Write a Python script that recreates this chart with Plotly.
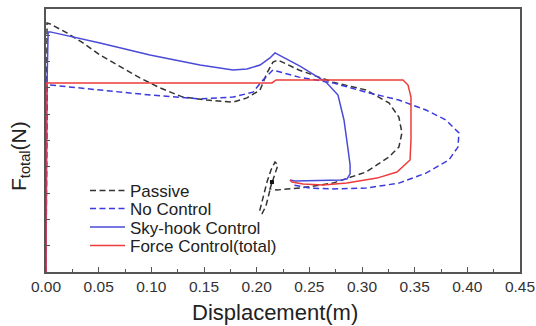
import plotly.graph_objects as go

# Passive (black dashed)
passive_x = [0, 0.001, 0.004, 0.0199, 0.0351, 0.0513, 0.0892, 0.1082, 0.1300, 0.1528, 0.1775, 0.1908,
             0.2032, 0.2098, 0.2155, 0.2202, 0.2401, 0.2724, 0.3037, 0.3256, 0.3350, 0.3379, 0.3350,
             0.3256, 0.3037, 0.2724, 0.2411, 0.2193, 0.2126, 0.2164, 0.2202, 0.2174, 0.2136, 0.2098,
             0.2060, 0.2031, 0.2050, 0.2088, 0.2117, 0.2145]
passive_y = [0, 9.47, 9.43, 9.09, 8.71, 8.25, 7.38, 7.00, 6.65, 6.54, 6.46, 6.62,
             6.92, 7.57, 7.98, 8.06, 7.68, 7.22, 6.92, 6.43, 5.89, 5.29, 4.75,
             4.37, 3.80, 3.38, 3.19, 3.12, 3.16, 3.65, 4.07, 4.18, 3.88, 3.42,
             2.81, 2.36, 2.21, 2.51, 2.97, 3.42]

# No Control (blue dashed)
noctrl_x = [0, 0.001, 0.004, 0.0513, 0.0987, 0.1462, 0.1775, 0.1965, 0.2060, 0.2155, 0.2401, 0.2724,
            0.3037, 0.3350, 0.3607, 0.3797, 0.3920, 0.3911, 0.3825, 0.3607, 0.3350, 0.3037, 0.2724,
            0.2506, 0.2345]
noctrl_y = [0, 7.11, 7.11, 6.92, 6.73, 6.58, 6.65, 6.84, 7.30, 7.68, 7.41, 7.19,
            6.84, 6.54, 6.16, 5.78, 5.29, 4.75, 4.26, 3.76, 3.38, 3.19, 3.16,
            3.19, 3.31]

# Sky-hook Control (blue solid)
sky_x = [0, 0.001, 0.002, 0.004, 0.0513, 0.0987, 0.1462, 0.1775, 0.1908, 0.2032, 0.2126, 0.2174,
         0.2411, 0.2658, 0.2772, 0.2829, 0.2868, 0.2887, 0.2887, 0.2858, 0.2810, 0.2364, 0.2316]
sky_y = [0, 7.19, 9.13, 9.13, 8.71, 8.25, 7.87, 7.68, 7.72, 7.87, 8.14, 8.33,
         7.83, 7.22, 6.73, 5.78, 4.64, 4.07, 3.73, 3.54, 3.50, 3.46, 3.50]

# Force Control (total) (red solid)
force_x = [0, 0, 0.2146, 0.2184, 0.3389, 0.3437, 0.3465, 0.3465, 0.3456, 0.3332, 0.3142, 0.2857,
           0.2630, 0.2440, 0.2335, 0.2316]
force_y = [0, 7.19, 7.19, 7.30, 7.30, 7.11, 6.65, 5.02, 4.26, 3.80, 3.57, 3.38,
           3.31, 3.35, 3.42, 3.50]

marker_x = [0.2145]
marker_y = [3.42]

x_ticks = [0.00, 0.05, 0.10, 0.15, 0.20, 0.25, 0.30, 0.35, 0.40, 0.45]
x_labels = ["0.00", "0.05", "0.10", "0.15", "0.20", "0.25", "0.30", "0.35", "0.40", "0.45"]

names = ["Passive", "No Control", "Sky-hook Control", "Force Control(total)"]
legend_ids = ["legend", "legend2", "legend3", "legend4"]

fig = go.Figure()
fig.add_trace(go.Scatter(x=passive_x, y=passive_y, mode="lines", name=names[0], legend=legend_ids[0],
                         line=dict(color="#333333", width=1.5, dash="6px,3.5px")))
fig.add_trace(go.Scatter(x=noctrl_x, y=noctrl_y, mode="lines", name=names[1], legend=legend_ids[1],
                         line=dict(color="#3b3bdd", width=1.5, dash="6px,3.5px")))
fig.add_trace(go.Scatter(x=sky_x, y=sky_y, mode="lines", name=names[2], legend=legend_ids[2],
                         line=dict(color="#4a4ad8", width=1.5)))
fig.add_trace(go.Scatter(x=force_x, y=force_y, mode="lines", name=names[3], legend=legend_ids[3],
                         line=dict(color="#ee3b3b", width=1.5)))
fig.add_trace(go.Scatter(x=marker_x, y=marker_y, mode="markers", showlegend=False,
                         marker=dict(symbol="square", size=4, color="#111111")))

def leg(ypix):
    return dict(x=(85 - 46) / 474, y=(272 - ypix) / 263, xanchor="left", yanchor="middle",
                bgcolor="rgba(0,0,0,0)", font=dict(size=17, color="#222222"),
                itemwidth=35, borderwidth=0)

fig.update_layout(
    width=536, height=326,
    margin=dict(l=46, r=16, t=9, b=54),
    paper_bgcolor="white", plot_bgcolor="white",
    font=dict(family="Liberation Sans, Arial", color="#222222"),
    showlegend=True,
    legend=leg(191), legend2=leg(209), legend3=leg(227.5), legend4=leg(246),
    xaxis=dict(range=[0, 0.45], tickvals=x_ticks, ticktext=x_labels,
               ticks="inside", ticklen=5, tickcolor="#555555",
               minor=dict(ticks="inside", ticklen=3, dtick=0.025, tickcolor="#555555"),
               showline=True, linecolor="#555555", linewidth=1.5, mirror=True,
               showgrid=False, zeroline=False, automargin=False,
               tickfont=dict(size=15.5, color="#333333")),
    yaxis=dict(range=[0, 10], dtick=1, showticklabels=False,
               ticks="inside", ticklen=4, tickcolor="#555555",
               showline=True, linecolor="#555555", linewidth=1.5, mirror=True,
               showgrid=False, zeroline=False, automargin=False),
    annotations=[
        dict(text="F<sub>total</sub>(N)", xref="paper", yref="paper",
             x=(20 - 46) / 474, y=(272 - 156) / 263, xanchor="center", yanchor="middle",
             textangle=-90, showarrow=False, font=dict(size=21, color="#222222")),
        dict(text="Displacement(m)", xref="paper", yref="paper",
             x=(275 - 46) / 474, y=(272 - 312) / 263, xanchor="center", yanchor="middle",
             showarrow=False, font=dict(size=22, color="#222222")),
    ],
)

fig.write_html("out.html", config={"displayModeBar": False},
               post_script="document.body.style.margin='0';document.body.style.overflow='hidden';")
